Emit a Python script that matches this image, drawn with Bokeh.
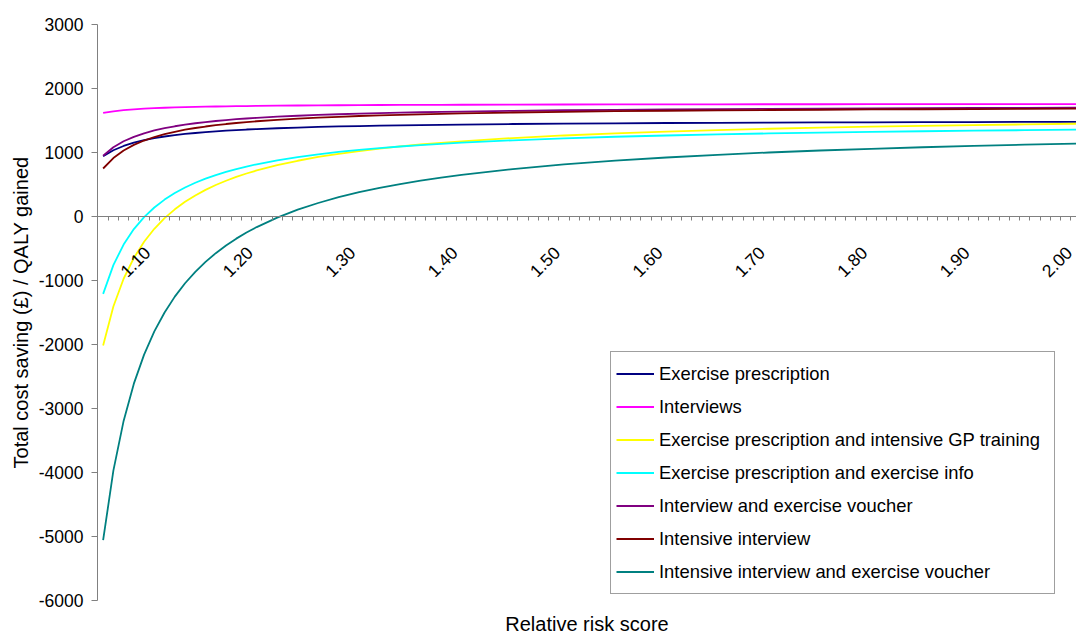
import math
from bokeh.plotting import figure
from bokeh.models import (Range1d, LinearAxis, FixedTicker, PrintfTickFormatter,
                          Legend, LegendItem)
from bokeh.embed import file_html
from bokeh.resources import INLINE

# Relative risk score at which each series is evaluated
risk = [1.05, 1.06, 1.07, 1.08, 1.09, 1.10, 1.11, 1.12, 1.13, 1.14, 1.15, 1.16,
        1.17, 1.18, 1.19, 1.20, 1.22, 1.24, 1.26, 1.28, 1.30, 1.32, 1.34, 1.36,
        1.38, 1.40, 1.45, 1.50, 1.55, 1.60, 1.65, 1.70, 1.75, 1.80, 1.85, 1.90,
        1.95, 2.00]

# Total cost saving (GBP) per QALY gained
exercise_prescription = [940, 1035, 1102, 1153, 1192, 1224, 1250, 1271, 1290, 1305, 1319, 1331,
                         1341, 1350, 1359, 1366, 1379, 1390, 1399, 1407, 1413, 1419, 1424, 1429,
                         1433, 1437, 1445, 1451, 1456, 1461, 1464, 1467, 1470, 1472, 1475, 1476,
                         1478, 1480]
interviews = [1620, 1644, 1661, 1674, 1684, 1692, 1699, 1704, 1709, 1713, 1716, 1719,
              1722, 1724, 1726, 1728, 1731, 1734, 1736, 1738, 1740, 1742, 1743, 1744,
              1745, 1746, 1748, 1750, 1751, 1752, 1753, 1754, 1754, 1755, 1756, 1756,
              1756, 1757]
ep_gp_training = [-2015, -1407, -973, -648, -395, -192, -26, 112, 229, 329, 416, 492,
                  559, 618, 672, 719, 802, 871, 930, 980, 1023, 1061, 1095, 1125,
                  1151, 1175, 1226, 1266, 1300, 1327, 1351, 1371, 1388, 1403, 1417, 1428,
                  1439, 1449]
ep_exercise_info = [-1209, -759, -438, -197, -9, 141, 264, 366, 453, 527, 591, 647,
                    697, 741, 780, 816, 877, 929, 972, 1009, 1041, 1069, 1094, 1116,
                    1136, 1154, 1191, 1221, 1246, 1266, 1283, 1298, 1311, 1322, 1332, 1341,
                    1349, 1356]
interview_voucher = [949, 1081, 1175, 1245, 1300, 1344, 1380, 1410, 1435, 1457, 1476, 1492,
                     1507, 1520, 1531, 1542, 1559, 1574, 1587, 1598, 1607, 1616, 1623, 1629,
                     1635, 1640, 1651, 1660, 1667, 1673, 1678, 1683, 1686, 1690, 1693, 1695,
                     1697, 1700]
intensive_interview = [750, 914, 1031, 1119, 1187, 1242, 1287, 1324, 1356, 1383, 1406, 1427,
                       1445, 1461, 1475, 1488, 1510, 1529, 1545, 1558, 1570, 1580, 1589, 1597,
                       1605, 1611, 1625, 1636, 1645, 1652, 1658, 1664, 1668, 1673, 1676, 1679,
                       1682, 1685]
intensive_voucher = [-5058, -3971, -3194, -2612, -2158, -1796, -1500, -1252, -1043, -864, -709, -573,
                     -453, -346, -251, -165, -17, 107, 211, 301, 379, 447, 507, 560,
                     608, 651, 741, 814, 873, 922, 964, 1000, 1031, 1058, 1082, 1104,
                     1123, 1140]

series_names = ["Exercise prescription",
                "Interviews",
                "Exercise prescription and intensive GP training",
                "Exercise prescription and exercise info",
                "Interview and exercise voucher",
                "Intensive interview",
                "Intensive interview and exercise voucher"]
series_values = [exercise_prescription, interviews, ep_gp_training, ep_exercise_info,
                 interview_voucher, intensive_interview, intensive_voucher]
series_colors = ["#000080", "#FF00FF", "#FFFF00", "#00FFFF", "#800080", "#800000", "#008080"]

# Category axis: one slot per 0.01 of risk score, labelled every 0.10
categories = [round(1.05 + 0.01 * i, 2) for i in range(96)]
labelled = [c for c in categories if round(c * 100) % 10 == 0]
boundaries = [round(c + 0.005, 3) for c in categories[:-1]]
y_ticks = [-6000, -5000, -4000, -3000, -2000, -1000, 0, 1000, 2000, 3000]

# slanted labels are set a little ahead of their slot so the text ends at the slot
LABEL_LEAD = 0.007
label_pos = [round(c - LABEL_LEAD, 4) for c in labelled]
label_text = {pos: f"{c:.2f}" for pos, c in zip(label_pos, labelled)}

FONT = "Liberation Sans"
AXIS_GREY = "#808080"

p = figure(width=1076, height=637, output_backend="svg", toolbar_location=None,
           x_range=Range1d(1.0445, 2.0005), y_range=Range1d(-6000, 3000),
           x_axis_location=None, y_axis_location=None,
           min_border_left=97, min_border_right=0, min_border_top=24, min_border_bottom=35)
p.grid.visible = False
p.outline_line_color = None
p.background_fill_color = "white"
p.border_fill_color = "white"

# Vertical axis
yaxis = LinearAxis(ticker=FixedTicker(ticks=y_ticks),
                   formatter=PrintfTickFormatter(format="%d"),
                   axis_label="Total cost saving (£) / QALY gained")
yaxis.axis_line_color = AXIS_GREY
yaxis.major_tick_line_color = AXIS_GREY
yaxis.major_tick_in = 0
yaxis.major_tick_out = 6
yaxis.minor_tick_line_color = None
yaxis.minor_tick_out = 0
yaxis.major_label_standoff = 8
yaxis.major_label_text_font = FONT
yaxis.major_label_text_font_size = "17.5px"
yaxis.major_label_text_color = "black"
yaxis.axis_label_text_font = FONT
yaxis.axis_label_text_font_size = "20px"
yaxis.axis_label_text_font_style = "normal"
yaxis.axis_label_text_color = "black"
yaxis.axis_label_standoff = 4
p.add_layout(yaxis, "left")

# Horizontal axis crossing at zero
xaxis = LinearAxis(fixed_location=0,
                   ticker=FixedTicker(ticks=label_pos, minor_ticks=boundaries),
                   formatter=PrintfTickFormatter(format="%.2f"),
                   major_label_overrides=label_text)
xaxis.axis_line_color = AXIS_GREY
xaxis.major_tick_line_color = None
xaxis.major_tick_in = 0
xaxis.major_tick_out = 0
xaxis.minor_tick_line_color = AXIS_GREY
xaxis.minor_tick_in = 0
xaxis.minor_tick_out = 4
xaxis.major_label_orientation = math.pi / 4
xaxis.major_label_standoff = 29
xaxis.major_label_text_font = FONT
xaxis.major_label_text_font_size = "17.5px"
xaxis.major_label_text_color = "black"
p.add_layout(xaxis, "below")

# Horizontal axis title along the bottom edge
xtitle = LinearAxis(ticker=FixedTicker(ticks=[]), axis_label="Relative risk score")
xtitle.axis_line_color = None
xtitle.major_tick_line_color = None
xtitle.minor_tick_line_color = None
xtitle.major_tick_out = 0
xtitle.major_tick_in = 0
xtitle.minor_tick_out = 0
xtitle.minor_tick_in = 0
xtitle.major_label_standoff = 0
xtitle.axis_label_standoff = 12
xtitle.axis_label_text_font = FONT
xtitle.axis_label_text_font_size = "20px"
xtitle.axis_label_text_font_style = "normal"
xtitle.axis_label_text_color = "black"
p.add_layout(xtitle, "below")

items = []
for name, vals, color in zip(series_names, series_values, series_colors):
    r = p.line(risk, vals, line_color=color, line_width=1.8)
    items.append(LegendItem(label=name, renderers=[r]))

legend = Legend(items=items, location=(513, 6), orientation="vertical",
                padding=5, spacing=0, margin=0,
                glyph_width=38, glyph_height=33, label_height=33, label_width=390,
                label_standoff=5,
                label_text_font=FONT, label_text_font_size="18.4px",
                label_text_color="black",
                border_line_color="#404040", border_line_width=1,
                background_fill_color="white", background_fill_alpha=1.0)
p.add_layout(legend)

open("out.html", "w").write(file_html(p, INLINE))
